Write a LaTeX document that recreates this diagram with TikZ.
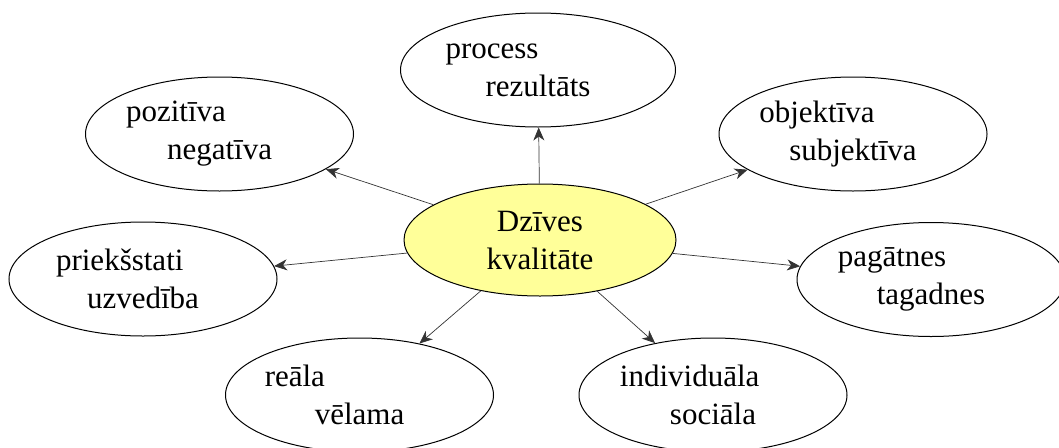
\documentclass[tikz,border=0pt]{standalone}
\usepackage{fontspec}
\setmainfont{Liberation Serif}
\usetikzlibrary{shapes.geometric,arrows.meta}
\definecolor{centerfill}{RGB}{255,255,153}
\newcommand\twolines[3]{#1\\\kern#2pt #3\kern#2pt}
\begin{document}
\begin{tikzpicture}[x=1pt,y=-1pt,
  bubble/.style={ellipse,draw=black,line width=1pt,minimum width=268pt,minimum height=114pt,inner sep=0pt,align=left,font=\fontsize{31}{38}\selectfont},
  hub/.style={bubble,fill=centerfill,align=center,minimum width=272pt,minimum height=112pt},
  link/.style={draw=black!80,line width=0.7pt,-{Stealth[length=13pt,width=11pt,inset=4pt]}}]
\useasboundingbox (0,0) rectangle (1059,447);
\node[hub] (c) at (540,240) {Dzīves\\kvalitāte};
\node[bubble,minimum width=275pt] (proc) at (538,70) {\twolines{process}{40}{rezultāts}};
\node[bubble] (poz) at (219.5,134) {\twolines{pozitīva}{41}{negatīva}};
\node[bubble] (obj) at (853,134) {\twolines{objektīva}{30}{subjektīva}};
\node[bubble] (pri) at (143,279) {\twolines{priekšstati}{31}{uzvedība}};
\node[bubble] (pag) at (931,279.5) {\twolines{pagātnes}{39}{tagadnes}};
\node[bubble] (rea) at (359.5,395) {\twolines{reāla}{50}{vēlama}};
\node[bubble] (ind) at (713,395) {\twolines{individuāla}{50}{sociāla}};
\foreach \t in {proc,poz,obj,pri,pag,rea,ind} \draw[link] (c) -- (\t);
\end{tikzpicture}
\end{document}
